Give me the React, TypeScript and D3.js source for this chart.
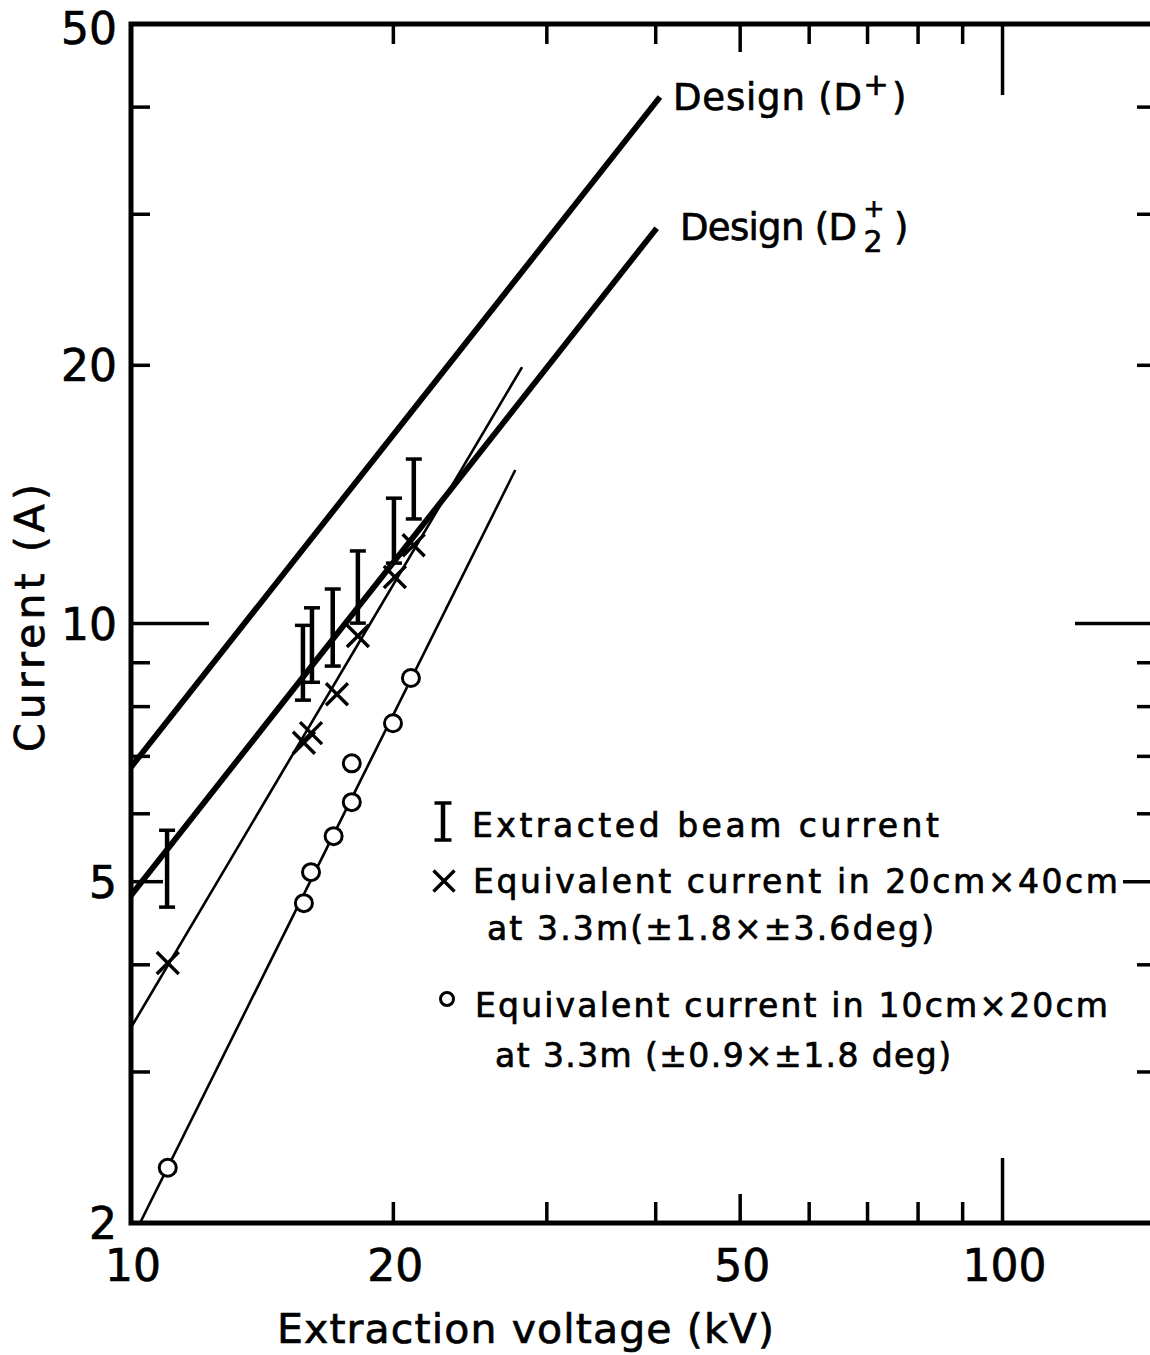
import React from 'react';
import * as d3 from 'd3';

const W = 1150;
const H = 1355;
const FONT = '"DejaVu Sans", "Liberation Sans", sans-serif';

// ---------------- data ----------------
// design curves (kV, A)
const designDPlusVoltage = [10, 40.45];
const designDPlusCurrent = [6.8, 41.1];
const designD2PlusVoltage = [10, 40.1];
const designD2PlusCurrent = [4.82, 28.9];
// thin fitted lines
const fitCrossVoltage = [10, 28.1];
const fitCrossCurrent = [3.38, 19.9];
const fitCircleVoltage = [10.24, 27.6];
const fitCircleCurrent = [2.0, 15.1];
// extracted beam current (error bars)
const beamVoltage = [11.0, 15.75, 16.13, 17.04, 18.21, 20.03, 21.11];
const beamLow = [4.67, 8.14, 8.54, 8.92, 10.01, 11.76, 13.24];
const beamHigh = [5.74, 9.95, 10.43, 10.97, 12.15, 14.0, 15.55];
// equivalent current 20cm x 40cm (crosses)
const crossVoltage = [11.02, 15.79, 16.09, 17.23, 18.21, 20.08, 21.1];
const crossCurrent = [4.02, 7.26, 7.45, 8.27, 9.67, 11.33, 12.34];
// equivalent current 10cm x 20cm (circles)
const circleVoltage = [11.02, 15.79, 16.09, 17.08, 17.92, 17.92, 19.98, 20.95];
const circleCurrent = [2.32, 4.72, 5.13, 5.65, 6.19, 6.87, 7.65, 8.64];
// ticks
const xMinorTicks = [20, 30, 40, 60, 70, 80, 90];
const xMidTicks = [50];
const xMajorTicks = [100];
const xTickLabelValues = [10, 20, 50, 100];
const yMinorTicks = [3, 4, 6, 7, 8, 9, 20, 30, 40];
const yMidTicks = [5];
const yMajorTicks = [10];
const yTickLabelValues = [2, 5, 10, 20, 50];

const legendLines = [
  'Extracted beam current',
  'Equivalent current in 20cm×40cm',
  'at 3.3m(±1.8×±3.6deg)',
  'Equivalent current in 10cm×20cm',
  'at 3.3m (±0.9×±1.8 deg)',
];

export default function App() {
  const x = d3.scaleLog().domain([10, 150]).range([131, 1156]);
  const y = d3.scaleLog().domain([2, 50]).range([1223, 24]);
  const [x0, x1] = x.range();
  const [y0, y1] = [y.range()[1], y.range()[0]]; // top, bottom

  const line = d3
    .line<[number, number]>()
    .x((d) => x(d[0]))
    .y((d) => y(d[1]));
  const pairs = (vs: number[], cs: number[]) =>
    vs.map((v, i) => [v, cs[i]] as [number, number]);

  const tickW = 3.5;
  const ticks: JSX.Element[] = [];
  const addY = (vals: number[], lenL: number, lenR: number, key: string) =>
    vals.forEach((v) => {
      ticks.push(
        <line key={`yl${key}${v}`} x1={x0} x2={x0 + lenL} y1={y(v)} y2={y(v)} stroke="#000" strokeWidth={tickW} />,
        <line key={`yr${key}${v}`} x1={x1 - lenR} x2={x1} y1={y(v)} y2={y(v)} stroke="#000" strokeWidth={tickW} />
      );
    });
  const addX = (vals: number[], lenT: number, lenB: number, key: string) =>
    vals.forEach((v) => {
      ticks.push(
        <line key={`xt${key}${v}`} x1={x(v)} x2={x(v)} y1={y0} y2={y0 + lenT} stroke="#000" strokeWidth={tickW} />,
        <line key={`xb${key}${v}`} x1={x(v)} x2={x(v)} y1={y1 - lenB} y2={y1} stroke="#000" strokeWidth={tickW} />
      );
    });
  addY(yMinorTicks, 19, 19, 'm');
  addY(yMidTicks, 32, 33, 'd');
  addY(yMajorTicks, 78, 81, 'M');
  addX(xMinorTicks, 20, 21, 'm');
  addX(xMidTicks, 28, 29, 'd');
  addX(xMajorTicks, 71, 65, 'M');

  const cross = (cx: number, cy: number, h: number, k: string) => (
    <g key={k} stroke="#000" strokeWidth={3.4} strokeLinecap="butt">
      <line x1={cx - h} y1={cy - h} x2={cx + h} y2={cy + h} />
      <line x1={cx - h} y1={cy + h} x2={cx + h} y2={cy - h} />
    </g>
  );
  const ibar = (cx: number, ty: number, by: number, hw: number, k: string) => (
    <g key={k} stroke="#000">
      <line x1={cx} x2={cx} y1={ty} y2={by} strokeWidth={4.5} />
      <line x1={cx - hw} x2={cx + hw} y1={ty} y2={ty} strokeWidth={3.5} />
      <line x1={cx - hw} x2={cx + hw} y1={by} y2={by} strokeWidth={3.5} />
    </g>
  );

  const legendX = [472, 473, 487, 475, 495];
  const legendY = [837, 893, 940, 1017, 1067];
  const legendEnd = [939, 1118, 934, 1108, 951];
  const textStroke = { stroke: '#000', strokeWidth: 0.7 };

  return (
    <svg
      width={W}
      height={H}
      viewBox={`0 0 ${W} ${H}`}
      style={{ position: 'absolute', left: 0, top: 0, display: 'block', background: '#fff' }}
      fontFamily={FONT}
    >
      <rect x={0} y={0} width={W} height={H} fill="#fff" />
      <defs>
        <clipPath id="plot">
          <rect x={x0} y={y0} width={x1 - x0} height={y1 - y0} />
        </clipPath>
      </defs>

      {/* lines */}
      <g clipPath="url(#plot)" fill="none" stroke="#000">
        <path d={line(pairs(designDPlusVoltage, designDPlusCurrent)) || ''} strokeWidth={5.8} />
        <path d={line(pairs(designD2PlusVoltage, designD2PlusCurrent)) || ''} strokeWidth={5.8} />
        <path d={line(pairs(fitCrossVoltage, fitCrossCurrent)) || ''} strokeWidth={2.6} />
        <path d={line(pairs(fitCircleVoltage, fitCircleCurrent)) || ''} strokeWidth={2.6} />
      </g>

      {/* error bars */}
      {beamVoltage.map((v, i) => ibar(x(v), y(beamHigh[i]), y(beamLow[i]), 8, `ib${i}`))}
      {/* crosses */}
      {crossVoltage.map((v, i) => cross(x(v), y(crossCurrent[i]), 11, `cx${i}`))}
      {/* circles */}
      {circleVoltage.map((v, i) => (
        <circle key={`ci${i}`} cx={x(v)} cy={y(circleCurrent[i])} r={8.5} fill="#fff" stroke="#000" strokeWidth={3} />
      ))}

      {/* frame + ticks */}
      <rect x={x0} y={y0} width={x1 - x0} height={y1 - y0} fill="none" stroke="#000" strokeWidth={5} />
      {ticks}

      <g {...textStroke}>
        {/* tick labels */}
        {xTickLabelValues.map((v) => (
          <text key={`xl${v}`} x={x(v) + 2} y={1281} fontSize={44} textAnchor="middle">
            {v}
          </text>
        ))}
        {yTickLabelValues.map((v) => (
          <text key={`yl${v}`} x={117} y={v === 50 ? y(v) + 20 : y(v) + 16} fontSize={44} textAnchor="end">
            {v}
          </text>
        ))}

        {/* axis titles */}
        <text x={277} y={1343} fontSize={41} textLength={497} lengthAdjust="spacing">
          Extraction voltage (kV)
        </text>
        <text transform="translate(44,752) rotate(-90)" x={0} y={0} fontSize={41} textLength={268} lengthAdjust="spacing">
          Current (A)
        </text>

        {/* design labels */}
        <text fontSize={37}>
          <tspan x={673} y={110} textLength={189} lengthAdjust="spacing">Design  (D</tspan>
          <tspan x={876} y={95} fontSize={30} textAnchor="middle">+</tspan>
          <tspan x={892} y={110}>)</tspan>
        </text>
        <text fontSize={37}>
          <tspan x={680} y={240} textLength={177} lengthAdjust="spacing">Design (D</tspan>
          <tspan x={874} y={217} fontSize={25} textAnchor="middle">+</tspan>
          <tspan x={873} y={252} fontSize={30} textAnchor="middle">2</tspan>
          <tspan x={894} y={240}>)</tspan>
        </text>

        {/* legend text */}
        {legendLines.map((t, i) => (
          <text
            key={`lg${i}`}
            x={legendX[i]}
            y={legendY[i]}
            fontSize={33}
            textLength={legendEnd[i] - legendX[i]}
            lengthAdjust="spacing"
          >
            {t}
          </text>
        ))}
      </g>

      {/* legend symbols */}
      {ibar(443, 803, 840, 8.5, 'legI')}
      {cross(444, 881, 10.5, 'legX')}
      <circle cx={447} cy={999} r={6.5} fill="none" stroke="#000" strokeWidth={3} />
    </svg>
  );
}
